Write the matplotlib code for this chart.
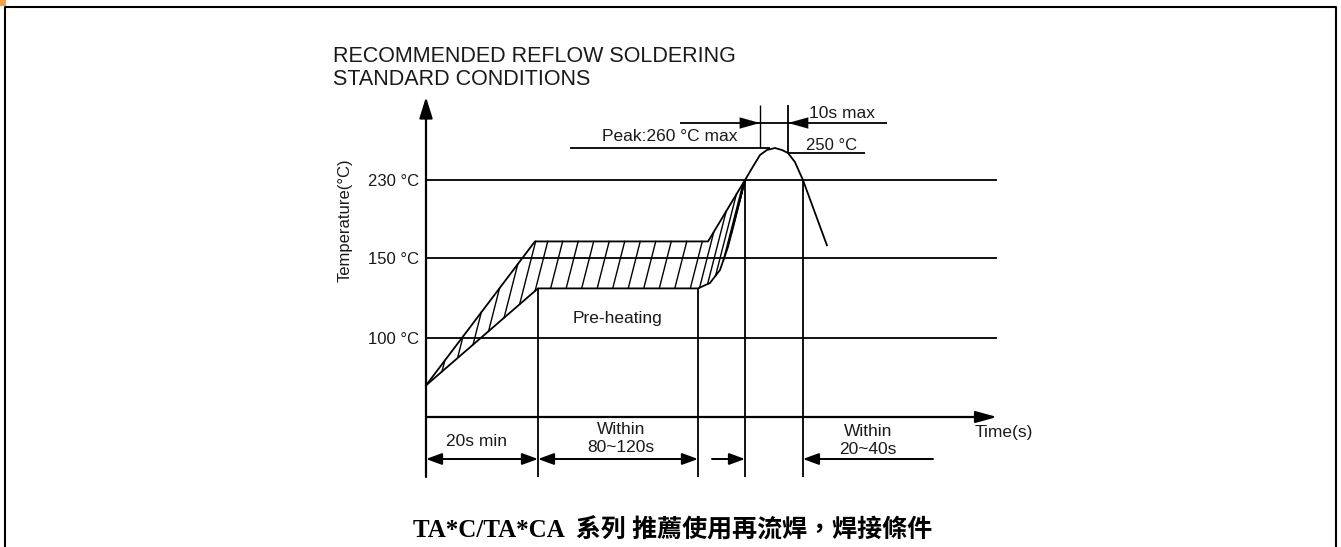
import numpy as np
import matplotlib
matplotlib.use("Agg")
import matplotlib.pyplot as plt
from matplotlib.patches import Rectangle
from matplotlib.lines import Line2D

# ---------------- data ----------------
title_lines = ["RECOMMENDED REFLOW SOLDERING", "STANDARD CONDITIONS"]
caption = "TA*C/TA*CA  系列 推薦使用再流焊，焊接條件"
y_label = "Temperature(°C)"
x_label = "Time(s)"

level_temps = [100, 150, 230]
level_labels = ["100 °C", "150 °C", "230 °C"]

peak_temp = 260
peak_label = "Peak:260 °C max"
hold_temp = 250
hold_label = "250 °C"
hold_time_label = "10s max"
hold_window = [208.75, 226.25]          # schematic time units

# schematic reflow profile band (time units, °C)
upper_t = [0, 68.1, 176.3, 199.4, 204.4, 208.75, 213.1, 218.1, 222.5, 226.25, 230.6, 235.6, 250.6]
upper_T = [55, 167, 167, 230, 240, 248.5, 256, 260, 256, 250, 243.3, 230, 163]
lower_t = [0, 70, 170, 177.5, 183.75, 188.75, 193.1, 199.4]
lower_T = [55, 131, 131, 134.4, 142.5, 161.3, 189, 230]

phase_t = [0, 70, 170, 199.4, 235.6]      # phase boundaries
phase_top_T = [None, 131, 131, 230, 230]
preheat_label = "Pre-heating"
dim_labels = ["20s min", "Within\n80~120s", "Within\n20~40s"]
time_end = 356.9

# ---------------- scale (schematic, piecewise) ----------------
T_anchor = np.array([-500, 25, 100, 150, 230, 250, 260, 1000.0])
P_anchor = np.array([-525, 0, 79, 159, 237, 264, 269, 1009.0])


def fwd(T):
    return np.interp(np.asarray(T, dtype=float), T_anchor, P_anchor)


def inv(P):
    return np.interp(np.asarray(P, dtype=float), P_anchor, T_anchor)


W, H = 1341, 547
fig = plt.figure(figsize=(W / 100, H / 100), dpi=100)
fig.patch.set_facecolor("white")

ax = fig.add_axes([426 / W, 130 / H, 571 / W, 320 / H])
ax.set_yscale("function", functions=(fwd, inv))
ax.set_xlim(0, time_end)
ax.set_ylim(25, inv(320))
for s in ax.spines.values():
    s.set_visible(False)
ax.set_xticks([])
ax.set_yticks(level_temps)
ax.set_yticklabels(level_labels, fontsize=12, family="Liberation Sans", color="#1a1a1a")
ax.tick_params(axis="y", length=0, pad=5)
ax.patch.set_alpha(0)

K = "black"
LW = 1.3
T_bot = inv(-60)
T_dim = inv(-42)

# axes arrows
ax.annotate("", xy=(0, inv(320)), xytext=(0, T_bot),
            arrowprops=dict(arrowstyle="-|>,head_length=0.8,head_width=0.25", mutation_scale=16,
                            color=K, lw=1.6, shrinkA=0, shrinkB=0), annotation_clip=False)
ax.annotate("", xy=(time_end, 25), xytext=(0, 25),
            arrowprops=dict(arrowstyle="-|>,head_length=0.8,head_width=0.22", mutation_scale=16,
                            color=K, lw=1.6, shrinkA=0, shrinkB=0), annotation_clip=False)

# reference levels
ax.hlines(level_temps, 0, time_end, colors=K, lw=LW, clip_on=False)
ax.hlines(peak_temp, 90, 215, colors=K, lw=LW, clip_on=False)
ax.hlines(hold_temp, hold_window[1], 274.4, colors=K, lw=LW, clip_on=False)

# profile band
ax.plot(upper_t, upper_T, color=K, lw=LW, clip_on=False, zorder=3)
ax.plot(lower_t, lower_T, color=K, lw=LW, clip_on=False, zorder=3)

# hatching between the band edges
ut = np.array(upper_t); up_pos = fwd(upper_T)
lt = np.array(lower_t); lo_pos = fwd(lower_T)
slope_t = 7.5 / 47.0
k = np.linspace(0, 200, 4001)
starts = np.concatenate([np.arange(10.0, 170.0, 9.7), np.arange(171.0, 197.0, 5.0)])
for t0 in starts:
    p0 = np.interp(t0, lt, lo_pos)
    tt = t0 + k * slope_t
    pp = p0 + k
    ub = np.interp(tt, ut, up_pos)
    idx = int(np.argmax(pp >= ub))
    ax.plot([t0, tt[idx]], [inv(p0), inv(pp[idx])], color=K, lw=1.0, clip_on=False, zorder=3)

# phase boundary verticals
for t, top in zip(phase_t[1:], phase_top_T[1:]):
    ax.vlines(t, T_bot, top, colors=K, lw=LW, clip_on=False)

# 10s max window
ax.vlines(hold_window[0], peak_temp, inv(312), colors=K, lw=1.0, clip_on=False)
ax.vlines(hold_window[1], hold_temp, inv(312), colors=K, lw=LW, clip_on=False)
T_win = inv(294)
ax.hlines(T_win, 158.75, 288.1, colors=K, lw=LW, clip_on=False)
ahead = dict(arrowstyle="-|>,head_length=0.9,head_width=0.25", mutation_scale=16,
             color=K, lw=0.1, shrinkA=0, shrinkB=0)
ax.annotate("", xy=(hold_window[0], T_win), xytext=(hold_window[0] - 12, T_win),
            arrowprops=ahead, annotation_clip=False)
ax.annotate("", xy=(hold_window[1], T_win), xytext=(hold_window[1] + 12, T_win),
            arrowprops=ahead, annotation_clip=False)

# dimension arrows
dim = dict(arrowstyle="<|-|>,head_length=0.6,head_width=0.22", mutation_scale=16,
           color=K, lw=1.4, shrinkA=0, shrinkB=0)
one = dict(arrowstyle="-|>,head_length=0.6,head_width=0.22", mutation_scale=16,
           color=K, lw=1.4, shrinkA=0, shrinkB=0)
ax.annotate("", xy=(phase_t[1], T_dim), xytext=(phase_t[0], T_dim), arrowprops=dim, annotation_clip=False)
ax.annotate("", xy=(phase_t[2], T_dim), xytext=(phase_t[1], T_dim), arrowprops=dim, annotation_clip=False)
ax.annotate("", xy=(phase_t[3], T_dim), xytext=(178.75, T_dim), arrowprops=one, annotation_clip=False)
ax.annotate("", xy=(phase_t[4], T_dim), xytext=(316.9, T_dim), arrowprops=one, annotation_clip=False)

# ---------------- texts ----------------
TC = "#1a1a1a"
FS = "Liberation Sans"


def ftext(x, y, s, **kw):
    kw.setdefault("family", FS)
    kw.setdefault("color", TC)
    fig.text(x / W, 1 - y / H, s, **kw)


ftext(333, 62, title_lines[0], fontsize=15.5, ha="left", va="baseline")
ftext(333, 85, title_lines[1], fontsize=15.5, ha="left", va="baseline")
ftext(345, 220, y_label, fontsize=12, rotation=90, ha="center", va="center")
ftext(617, 319, preheat_label, fontsize=12.5, ha="center", va="center")
ftext(670, 137, peak_label, fontsize=12.5, ha="center", va="center")
ftext(832, 145, hold_label, fontsize=12, ha="center", va="center")
ftext(842, 113, hold_time_label, fontsize=12.5, ha="center", va="center")
ftext(477, 442, dim_labels[0], fontsize=12.5, ha="center", va="center")
ftext(621, 439, dim_labels[1], fontsize=12.5, ha="center", va="center", linespacing=1.25)
ftext(868, 440, dim_labels[2], fontsize=12.5, ha="center", va="center", linespacing=1.25)
ftext(975, 432, x_label, fontsize=12.5, ha="left", va="center")

fig.text(673 / W, 1 - 530 / H, caption, fontsize=18, fontweight="bold",
         family=["Liberation Serif", "Noto Sans CJK TC"], ha="center", va="center", color="black")

# frame and corner mark
fig.add_artist(Line2D([5 / W, 5 / W, 1336 / W, 1336 / W], [0, 1 - 7 / H, 1 - 7 / H, 0],
                      transform=fig.transFigure, color="black", lw=1.5))
fig.add_artist(Rectangle((0, 1 - 6 / H), 6 / W, 6 / H, transform=fig.transFigure,
                         facecolor="#f0a050", edgecolor="none"))

fig.savefig("out.png", dpi=100)
